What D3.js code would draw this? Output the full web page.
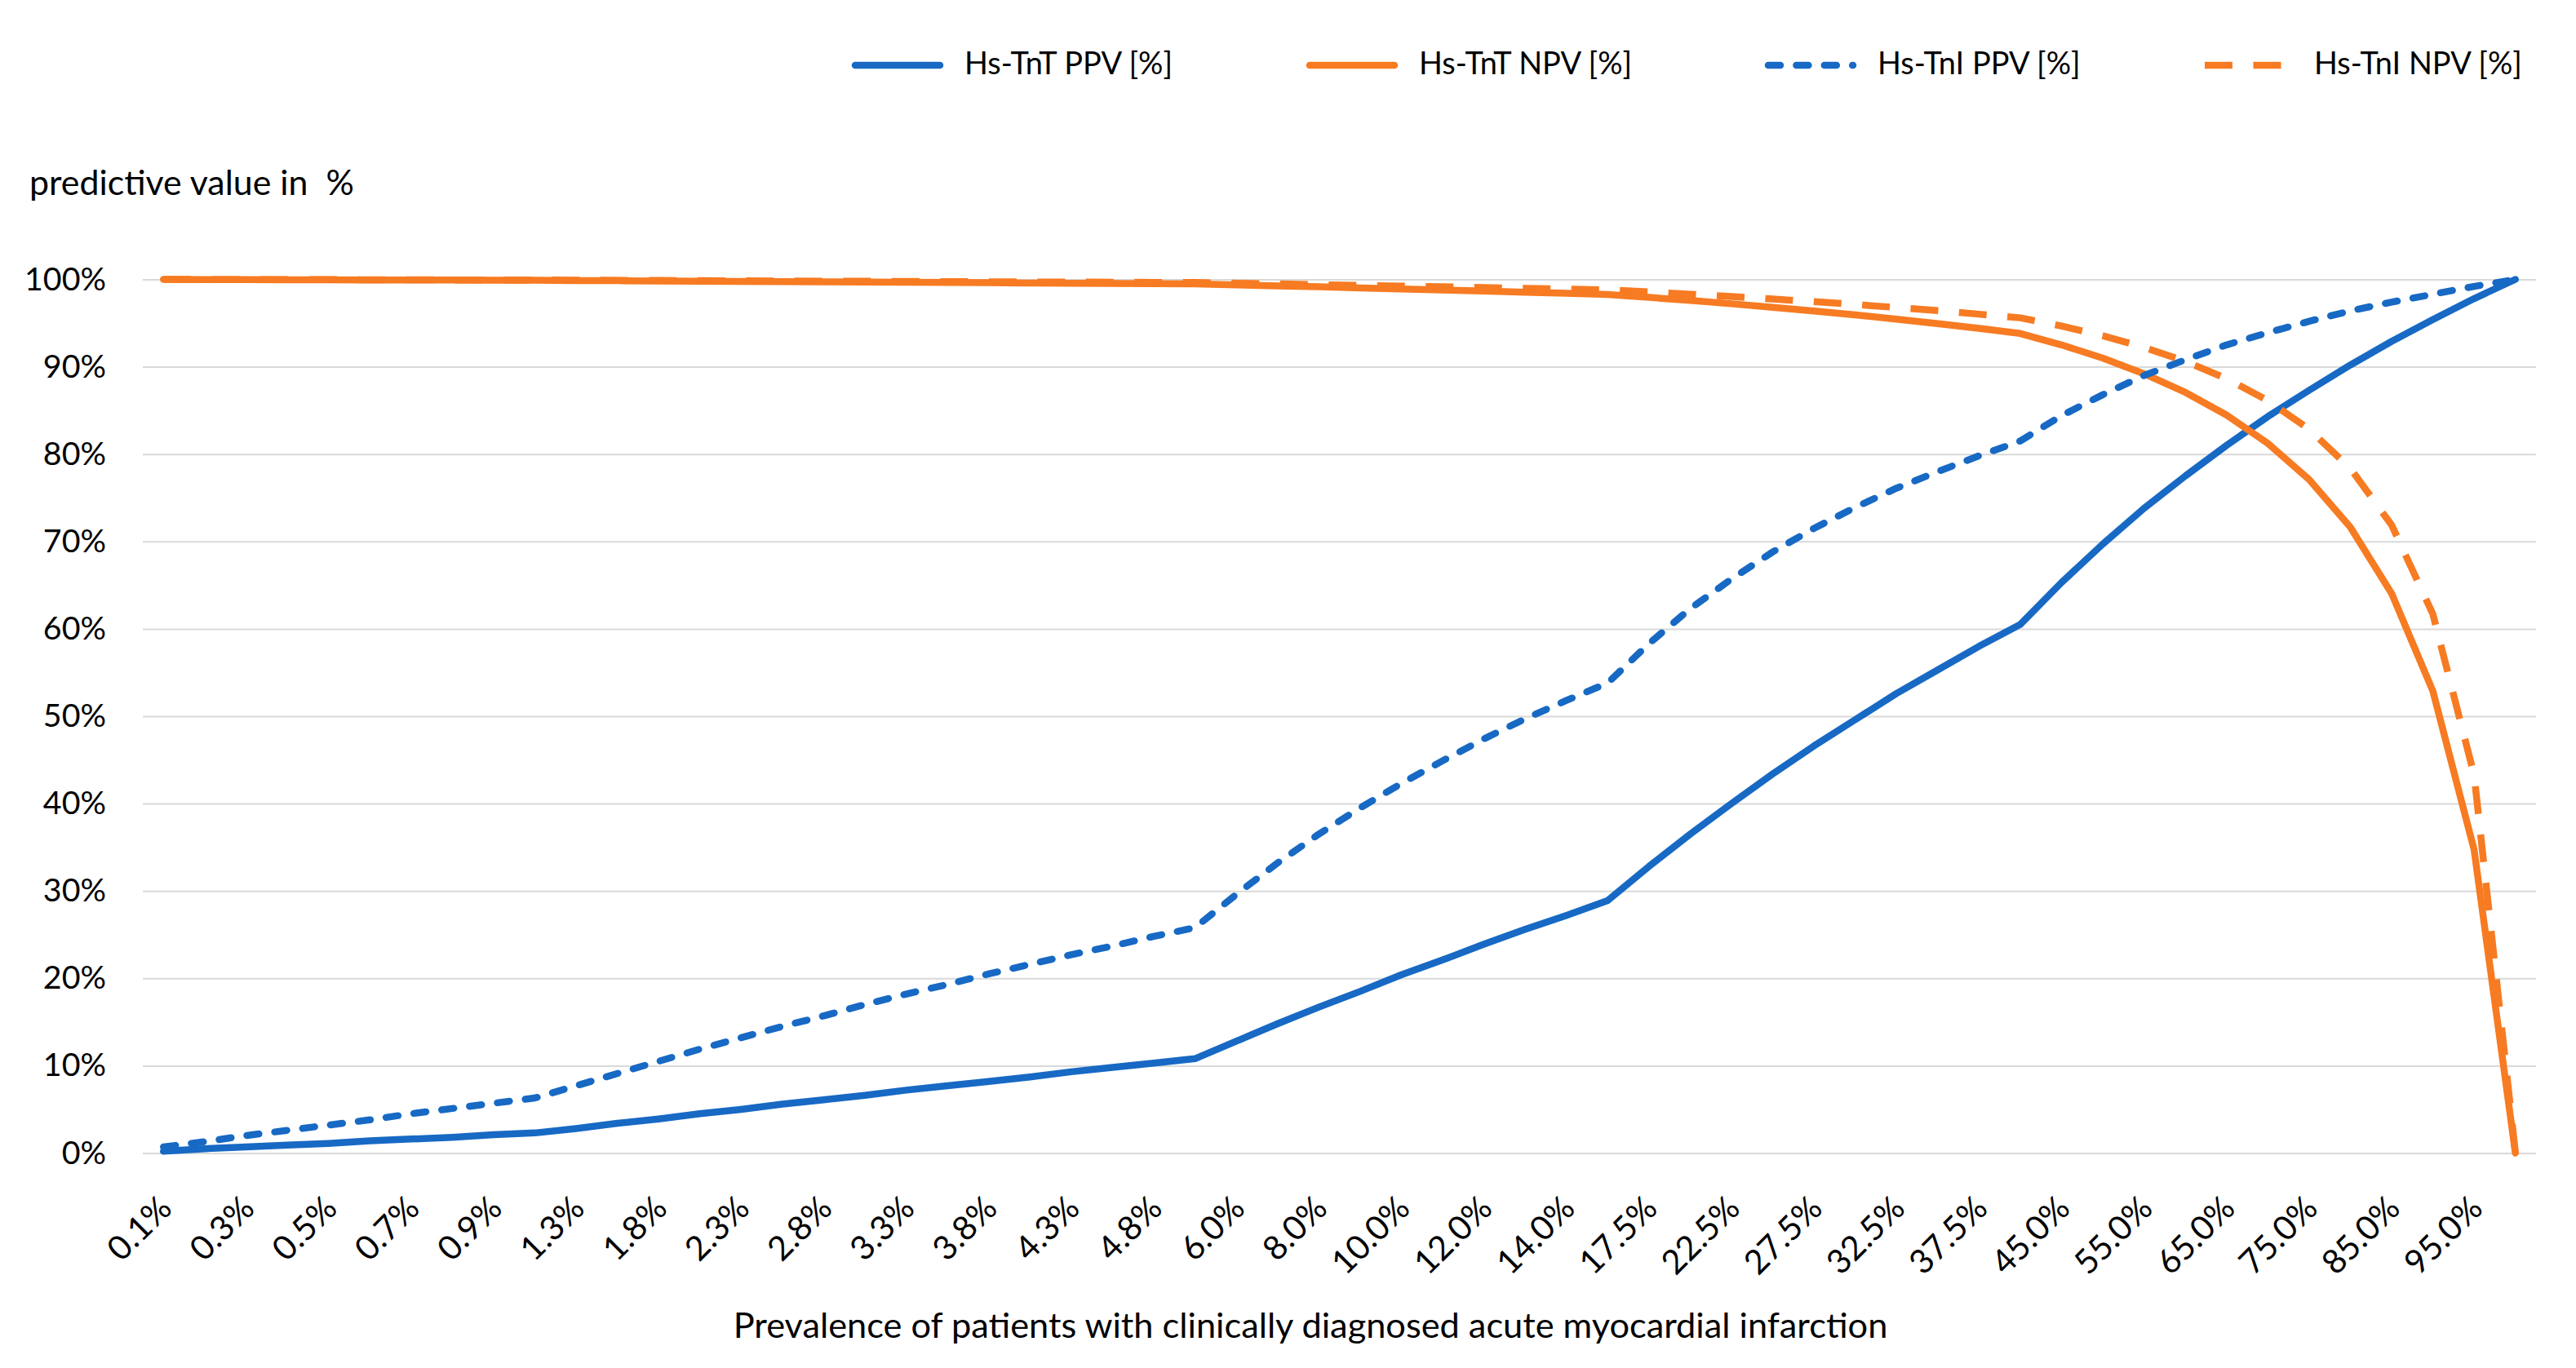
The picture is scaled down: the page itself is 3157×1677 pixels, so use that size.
<!DOCTYPE html>
<html>
<head>
<meta charset="utf-8">
<script src="https://cdn.jsdelivr.net/npm/d3@7"></script>
<style>
  body { margin: 0; background: #fff; }
  svg { display: block; font-family: Lato, "Open Sans", sans-serif; }
</style>
</head>
<body>
<svg id="chart" width="3157" height="1677"></svg>
<script>
// prevalence categories (%), one point each
const prevalence = [0.1, 0.2, 0.3, 0.4, 0.5, 0.6, 0.7, 0.8, 0.9, 1.0,
  1.25, 1.5, 1.75, 2.0, 2.25, 2.5, 2.75, 3.0, 3.25, 3.5, 3.75, 4.0, 4.25, 4.5, 4.75,
  5, 6, 7, 8, 9, 10, 11, 12, 13, 14,
  15, 17.5, 20, 22.5, 25, 27.5, 30, 32.5, 35, 37.5,
  40, 45, 50, 55, 60, 65, 70, 75, 80, 85, 90, 95, 100];

// predictive values (%)
const tntPPV = [0.2, 0.5, 0.7, 0.9, 1.1, 1.4, 1.6, 1.8, 2.1, 2.3,
  2.8, 3.4, 3.9, 4.5, 5.0, 5.6, 6.1, 6.6, 7.2, 7.7, 8.2, 8.7, 9.3, 9.8, 10.3,
  10.8, 12.8, 14.8, 16.7, 18.5, 20.4, 22.1, 23.9, 25.6, 27.2,
  28.9, 32.8, 36.5, 40.0, 43.4, 46.6, 49.6, 52.6, 55.3, 58.0,
  60.5, 65.3, 69.7, 73.8, 77.5, 81.0, 84.3, 87.3, 90.2, 92.9, 95.4, 97.8, 100];

const tntNPV = [99.99, 99.98, 99.97, 99.96, 99.95, 99.94, 99.93, 99.92, 99.91, 99.9,
  99.87, 99.85, 99.82, 99.8, 99.77, 99.75, 99.72, 99.69, 99.67, 99.64, 99.62, 99.59, 99.56, 99.54, 99.51,
  99.48, 99.37, 99.26, 99.15, 99.03, 98.91, 98.79, 98.67, 98.54, 98.41,
  98.28, 97.94, 97.59, 97.21, 96.81, 96.38, 95.93, 95.45, 94.94, 94.39,
  93.81, 92.5, 90.99, 89.2, 87.07, 84.47, 81.23, 77.1, 71.63, 64.06, 52.88, 34.71, 0];

const tniPPV = [0.7, 1.3, 2.0, 2.6, 3.2, 3.8, 4.5, 5.1, 5.7, 6.3,
  7.7, 9.1, 10.5, 11.9, 13.2, 14.5, 15.7, 17.0, 18.2, 19.3, 20.5, 21.6, 22.7, 23.7, 24.8,
  25.8, 29.6, 33.2, 36.5, 39.5, 42.3, 44.9, 47.4, 49.7, 51.8,
  53.8, 58.3, 62.3, 65.7, 68.8, 71.5, 73.9, 76.1, 78.0, 79.8,
  81.5, 84.4, 86.8, 89.0, 90.8, 92.5, 93.9, 95.2, 96.4, 97.4, 98.3, 99.2, 100];

const tniNPV = [99.99, 99.99, 99.98, 99.97, 99.97, 99.96, 99.95, 99.94, 99.94, 99.93,
  99.91, 99.89, 99.88, 99.86, 99.84, 99.82, 99.8, 99.79, 99.77, 99.75, 99.73, 99.71, 99.69, 99.68, 99.66,
  99.64, 99.56, 99.48, 99.4, 99.32, 99.24, 99.15, 99.07, 98.98, 98.89,
  98.8, 98.56, 98.3, 98.04, 97.75, 97.45, 97.13, 96.78, 96.42, 96.02,
  95.6, 94.66, 93.55, 92.22, 90.62, 88.64, 86.13, 82.85, 78.37, 71.89, 61.69, 43.27, 0];

const seriesNames = ['Hs-TnT PPV [%]', 'Hs-TnT NPV [%]', 'Hs-TnI PPV [%]', 'Hs-TnI NPV [%]'];
const yTicks = [0, 10, 20, 30, 40, 50, 60, 70, 80, 90, 100];

const blue = '#1769c4';
const orange = '#f77b22';
const lineWidth = 8.5;

const series = [
  { name: seriesNames[0], values: tntPPV, color: blue, dash: null, cap: 'round' },
  { name: seriesNames[1], values: tntNPV, color: orange, dash: null, cap: 'round' },
  { name: seriesNames[2], values: tniPPV, color: blue, dash: '15 19.4', cap: 'round' },
  { name: seriesNames[3], values: tniNPV, color: orange, dash: '34 25.5', cap: 'butt' }
];

const svg = d3.select('#chart');
const plotLeft = 175, plotRight = 3108, plotTop = 342.5, plotBottom = 1413.5;

// set the font size of a text so it spans the wanted width
function fitFont(sel, target) {
  sel.attr('font-size', 40);
  const w = sel.node().getComputedTextLength();
  const size = 40 * target / w;
  sel.attr('font-size', size);
  return size;
}

const x = d3.scalePoint()
  .domain(prevalence)
  .range([plotLeft, plotRight])
  .padding(0.5);

const y = d3.scaleLinear()
  .domain([0, 100])
  .range([plotBottom, plotTop]);

// y axis with gridlines
const yAxis = svg.append('g')
  .attr('transform', `translate(${plotLeft},0)`)
  .call(d3.axisLeft(y)
    .tickValues(yTicks)
    .tickFormat((d) => d + '%')
    .tickSize(-(plotRight - plotLeft))
    .tickPadding(45))
  .attr('font-family', null);
yAxis.select('.domain').remove();
yAxis.selectAll('.tick line').attr('stroke', '#d9d9d9').attr('stroke-width', 2);
const yTickText = yAxis.selectAll('.tick text').attr('fill', '#000');
const ySize = fitFont(yAxis.select('.tick:last-of-type text'), 100);
yTickText.attr('font-size', ySize);

// legend: one font size so that the four labels together span the reference width
const legendX = [1048, 1605, 2167, 2702];
const legend = svg.append('g');
const legendTexts = [];
series.forEach((s, i) => {
  const g = legend.append('g').attr('transform', `translate(${legendX[i]},80)`);
  g.append('line')
    .attr('x1', 0).attr('x2', 104)
    .attr('stroke', s.color)
    .attr('stroke-width', lineWidth)
    .attr('stroke-linecap', s.cap)
    .attr('stroke-dasharray', s.dash);
  legendTexts.push(g.append('text')
    .attr('x', 134).attr('y', 11)
    .attr('fill', '#000')
    .attr('font-size', 40)
    .text(s.name));
});
const legendWidth = d3.sum(legendTexts, (t) => t.node().getComputedTextLength());
const legendSize = 40 * 1020 / legendWidth;
legendTexts.forEach((t) => t.attr('font-size', legendSize));

// x axis: category labels, every other one shown
const xAxis = svg.append('g')
  .attr('transform', `translate(0,${plotBottom})`)
  .call(d3.axisBottom(x)
    .tickValues(prevalence.filter((d, i) => i % 2 === 0 && i < prevalence.length - 1))
    .tickFormat((d) => d.toFixed(1) + '%')
    .tickSize(0))
  .attr('font-family', null);
xAxis.select('.domain').remove();
xAxis.selectAll('.tick text')
  .attr('y', 0)
  .attr('dy', '0.35em')
  .attr('transform', 'translate(2,60) rotate(-45)')
  .attr('text-anchor', 'end')
  .attr('fill', '#000')
  .attr('font-size', ySize * 1.05);

// lines
const line = d3.line()
  .x((d, i) => x(prevalence[i]))
  .y((d) => y(d));

series.forEach((s) => {
  svg.append('path')
    .datum(s.values)
    .attr('fill', 'none')
    .attr('stroke', s.color)
    .attr('stroke-width', lineWidth)
    .attr('stroke-linejoin', 'round')
    .attr('stroke-linecap', s.cap)
    .attr('stroke-dasharray', s.dash)
    .attr('d', line);
});

// axis titles
const yTitle = svg.append('text')
  .attr('x', 36).attr('y', 239)
  .attr('fill', '#000')
  .style('white-space', 'pre')
  .text('predictive value in  %');
fitFont(yTitle, 398);

const xTitle = svg.append('text')
  .attr('x', 1606).attr('y', 1640)
  .attr('text-anchor', 'middle')
  .attr('fill', '#000')
  .text('Prevalence of patients with clinically diagnosed acute myocardial infarction');
fitFont(xTitle, 1415);
</script>
</body>
</html>
